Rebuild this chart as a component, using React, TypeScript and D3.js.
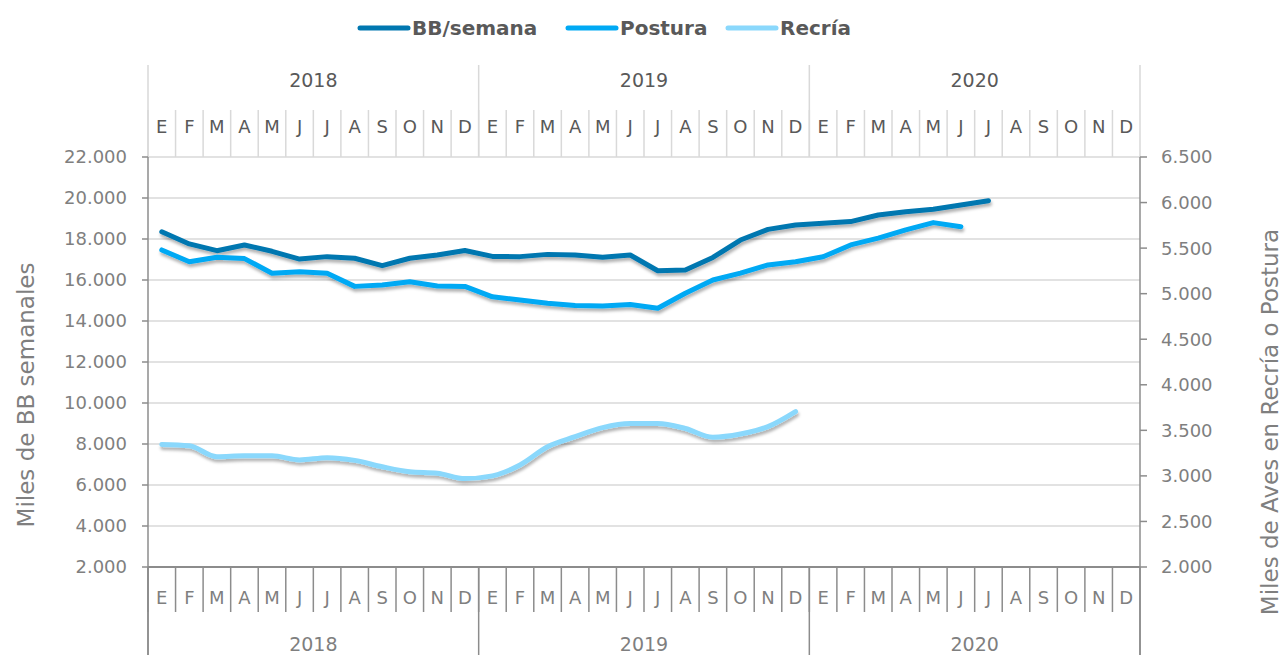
import React from "react";
import * as d3 from "d3";

const monthLabels = ["E", "F", "M", "A", "M", "J", "J", "A", "S", "O", "N", "D"];
const years = ["2018", "2019", "2020"];

// BB/semana (left axis, miles de BB semanales), from Jan 2018
const bbSemana = [
  18350, 17760, 17430, 17710, 17400, 17020, 17140, 17060, 16700, 17060, 17220, 17440,
  17150, 17140, 17250, 17220, 17110, 17220, 16450, 16490, 17100, 17950, 18470, 18680,
  18770, 18850, 19170, 19330, 19450, 19660, 19870,
];
// Postura (right axis, miles de aves)
const postura = [
  5480, 5350, 5400, 5385, 5225, 5240, 5225, 5080, 5095, 5130, 5085, 5080,
  4965, 4930, 4895, 4870, 4865, 4880, 4840, 5005, 5150, 5225, 5315, 5350,
  5405, 5535, 5610, 5700, 5780, 5735,
];
// Recría (right axis, miles de aves)
const recria = [
  3345, 3330, 3210, 3220, 3220, 3175, 3200, 3170, 3100, 3045, 3030, 2970,
  3000, 3120, 3320, 3430, 3530, 3575, 3575, 3520, 3425, 3460, 3540, 3705,
];

const leftTicks = [2000, 4000, 6000, 8000, 10000, 12000, 14000, 16000, 18000, 20000, 22000];
const rightTicks = [2000, 2500, 3000, 3500, 4000, 4500, 5000, 5500, 6000, 6500];

const W = 1282;
const H = 655;
const X0 = 148;
const X1 = 1140;
const YT = 157;
const YB = 567;

const FONT = "'DejaVu Sans', sans-serif";
const TXT = "#7f7f7f";
const AXIS = "#8c8c8c";
const GRID = "#d9d9d9";

const C_BB = "#0077b0";
const C_POST = "#00a9f4";
const C_REC = "#8ad8fc";

const fmt = (v: number) => d3.format(",")(v).replace(/,/g, ".");

export default function App() {
  const nMonths = years.length * 12;
  const idx = d3.range(nMonths);
  const xb = d3.scaleBand<number>().domain(idx).range([X0, X1]).padding(0);
  const bw = xb.bandwidth();
  const xc = (i: number) => (xb(i) as number) + bw / 2;
  const yL = d3.scaleLinear().domain([2000, 22000]).range([YB, YT]);
  const yR = d3.scaleLinear().domain([2000, 6500]).range([YB, YT]);

  const lineL = d3.line<number>().x((_, i) => xc(i)).y((d) => yL(d));
  const lineR = d3.line<number>().x((_, i) => xc(i)).y((d) => yR(d));
  const lineRs = d3
    .line<number>()
    .x((_, i) => xc(i))
    .y((d) => yR(d))
    .curve(d3.curveMonotoneX);

  const yearEdges = d3.range(years.length + 1).map((k) => xb(k * 12) ?? X1);
  yearEdges[years.length] = X1;

  const legend = [
    { label: "BB/semana", color: C_BB, x: 360 },
    { label: "Postura", color: C_POST, x: 568 },
    { label: "Recría", color: C_REC, x: 728 },
  ];

  return (
    <div style={{ position: "absolute", left: 0, top: 0 }}>
      <svg width={W} height={H} style={{ display: "block", background: "#fff" }}>
        <defs>
          <filter id="sh" x="-5%" y="-20%" width="110%" height="160%">
            <feDropShadow dx="1" dy="3" stdDeviation="1.6" floodColor="#000" floodOpacity="0.3" />
          </filter>
        </defs>

        {/* horizontal gridlines */}
        {leftTicks.map((t) => (
          <line key={"g" + t} x1={X0} x2={X1} y1={yL(t)} y2={yL(t)} stroke={GRID} strokeWidth={1.5} />
        ))}

        {/* top axis (light) */}
        {idx.map((i) => (
          <line key={"tm" + i} x1={xb(i)} x2={xb(i)} y1={110} y2={YT} stroke={GRID} strokeWidth={1.5} />
        ))}
        {yearEdges.map((x, k) => (
          <line key={"ty" + k} x1={x} x2={x} y1={65} y2={YT} stroke={GRID} strokeWidth={1.5} />
        ))}
        {idx.map((i) => (
          <text
            key={"tml" + i}
            x={xc(i)}
            y={133}
            textAnchor="middle"
            fontFamily={FONT}
            fontSize={18}
            fill="#595959"
          >
            {monthLabels[i % 12]}
          </text>
        ))}
        {years.map((yr, k) => (
          <text
            key={"tyl" + yr}
            x={(yearEdges[k] + yearEdges[k + 1]) / 2}
            y={87}
            textAnchor="middle"
            fontFamily={FONT}
            fontSize={19}
            fill="#595959"
          >
            {yr}
          </text>
        ))}

        {/* bottom axis */}
        {idx.map((i) => (
          <line key={"bm" + i} x1={xb(i)} x2={xb(i)} y1={YB} y2={612} stroke={AXIS} strokeWidth={1.5} />
        ))}
        {yearEdges.map((x, k) => (
          <line key={"by" + k} x1={x} x2={x} y1={YB} y2={H} stroke={AXIS} strokeWidth={1.5} />
        ))}
        <line x1={X0} x2={X1} y1={YB} y2={YB} stroke={AXIS} strokeWidth={2} />
        {idx.map((i) => (
          <text
            key={"bml" + i}
            x={xc(i)}
            y={604}
            textAnchor="middle"
            fontFamily={FONT}
            fontSize={18}
            fill={TXT}
          >
            {monthLabels[i % 12]}
          </text>
        ))}
        {years.map((yr, k) => (
          <text
            key={"byl" + yr}
            x={(yearEdges[k] + yearEdges[k + 1]) / 2}
            y={651}
            textAnchor="middle"
            fontFamily={FONT}
            fontSize={19}
            fill={TXT}
          >
            {yr}
          </text>
        ))}

        {/* left axis */}
        <line x1={X0} x2={X0} y1={YT} y2={H} stroke={AXIS} strokeWidth={1.5} />
        {leftTicks.map((t) => (
          <g key={"lt" + t}>
            <line x1={X0 - 6} x2={X0} y1={yL(t)} y2={yL(t)} stroke={AXIS} strokeWidth={1.5} />
            <text
              x={127}
              y={yL(t)}
              dy="0.36em"
              textAnchor="end"
              fontFamily={FONT}
              fontSize={18}
              fill={TXT}
            >
              {fmt(t)}
            </text>
          </g>
        ))}

        {/* right axis */}
        <line x1={X1} x2={X1} y1={YT} y2={H} stroke={AXIS} strokeWidth={1.5} />
        {rightTicks.map((t) => (
          <g key={"rt" + t}>
            <line x1={X1} x2={X1 + 7} y1={yR(t)} y2={yR(t)} stroke={AXIS} strokeWidth={1.5} />
            <text
              x={1161}
              y={yR(t)}
              dy="0.36em"
              textAnchor="start"
              fontFamily={FONT}
              fontSize={18}
              fill={TXT}
            >
              {fmt(t)}
            </text>
          </g>
        ))}

        {/* axis titles */}
        <text
          transform="translate(34,395) rotate(-90)"
          textAnchor="middle"
          fontFamily={FONT}
          fontSize={23}
          fill={TXT}
        >
          Miles de BB semanales
        </text>
        <text
          transform="translate(1278,422) rotate(-90)"
          textAnchor="middle"
          fontFamily={FONT}
          fontSize={23}
          fill={TXT}
        >
          Miles de Aves en Recría o Postura
        </text>

        {/* series */}
        <g filter="url(#sh)">
          <path d={lineRs(recria) ?? ""} fill="none" stroke={C_REC} strokeWidth={5} strokeLinecap="round" strokeLinejoin="round" />
          <path d={lineR(postura) ?? ""} fill="none" stroke={C_POST} strokeWidth={5} strokeLinecap="round" strokeLinejoin="round" />
          <path d={lineL(bbSemana) ?? ""} fill="none" stroke={C_BB} strokeWidth={5} strokeLinecap="round" strokeLinejoin="round" />
        </g>

        {/* legend */}
        {legend.map((l) => (
          <g key={l.label}>
            <line x1={l.x} x2={l.x + 48} y1={28} y2={28} stroke={l.color} strokeWidth={5} strokeLinecap="round" />
            <text
              x={l.x + 52}
              y={28}
              dy="0.36em"
              fontFamily={FONT}
              fontSize={20}
              fontWeight="bold"
              fill="#595959"
            >
              {l.label}
            </text>
          </g>
        ))}
      </svg>
    </div>
  );
}
